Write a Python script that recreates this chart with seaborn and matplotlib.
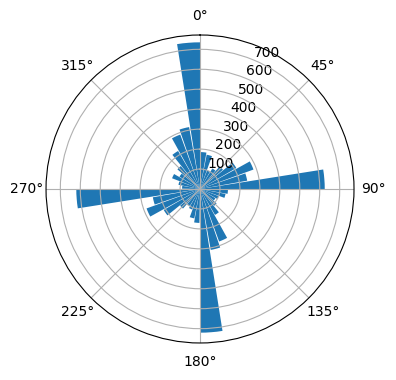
import numpy as np
import matplotlib
matplotlib.use("Agg")
import matplotlib.pyplot as plt
import seaborn as sns

# ========== data: counts per 10-degree direction bin ==========
bin_end_deg = np.arange(10, 370, 10)
counts = [
    185, 175, 100, 120, 150, 210, 285, 240, 625,   # 0 - 90
    140, 130, 100, 90, 110, 150, 280, 310, 720,    # 90 - 180
    170, 150, 110, 100, 130, 210, 285, 240, 620,   # 180 - 270
    90, 110, 150, 120, 150, 220, 290, 315, 735,    # 270 - 360
]
bar_width_deg = 9

color = sns.color_palette()[0]

fig = plt.figure(figsize=(3.96, 3.8), dpi=100)
ax = fig.add_axes([0.1162, 0.0974, 0.7778, 0.8105], projection="polar")
ax.set_theta_zero_location("N")
ax.set_theta_direction(-1)

# bars hang back from the upper edge of each bin
ax.bar(np.deg2rad(bin_end_deg), counts, width=-np.deg2rad(bar_width_deg),
       align="edge", color=color)
ax.set_rticks([100, 200, 300, 400, 500, 600, 700])

fig.savefig("out.png", dpi=100)
